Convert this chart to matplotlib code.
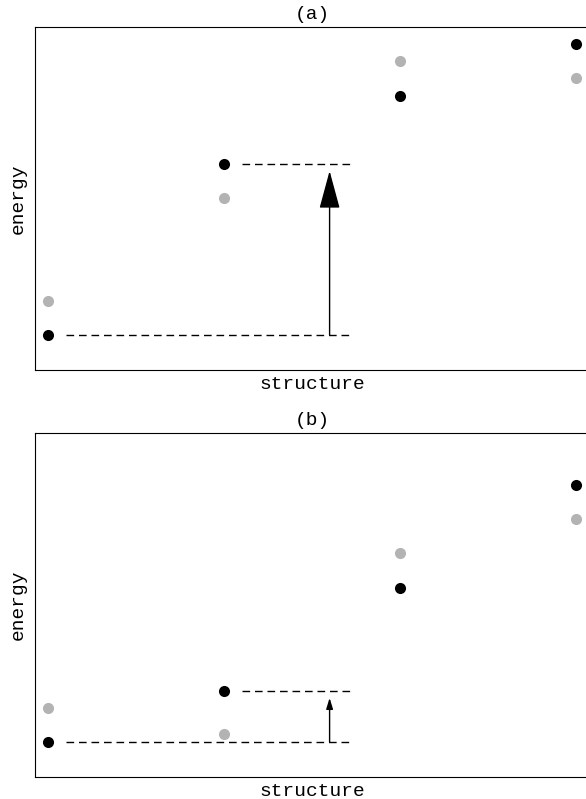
import matplotlib.pyplot as plt

# posiciones de las estructuras
structures = [0, 1, 2, 3]

# energias del panel (a)
black_a = [35, 206, 274, 326]
gray_a = [69, 172, 309, 292]

# energias del panel (b)
black_b = [35, 86, 189, 292]
gray_b = [69, 43, 224, 258]

titles = ['(a)', '(b)']

plt.rcParams['font.family'] = ['Liberation Mono', 'DejaVu Sans Mono']

fig = plt.figure(figsize=(5.86, 7.99), dpi=100)
W, H = 586, 799


def panel(top, bottom, black, gray, title, head_w, head_l):
  ax = fig.add_axes([35 / W, 1 - bottom / H, 554 / W, (bottom - top) / H])
  ax.plot(structures, gray, 'o', color='#b3b3b3', ms=8, mec='none')
  ax.plot(structures, black, 'o', color='black', ms=8, mec='none')
  # lineas punteadas
  ax.plot([0.1, 1.72], [black[0], black[0]], color='black', lw=1, ls=(0, (5.5, 3.5)))
  ax.plot([1.1, 1.72], [black[1], black[1]], color='black', lw=1, ls=(0, (5.5, 3.5)))
  # flecha
  ax.annotate('', xy=(1.6, black[1]), xytext=(1.6, black[0]),
              arrowprops=dict(arrowstyle=f'-|>,head_width={head_w},head_length={head_l}',
                              color='black', lw=1, shrinkA=0, shrinkB=5))
  ax.set_xlim(-0.074, 3.074)
  ax.set_ylim(0, bottom - top)
  ax.set_xticks([])
  ax.set_yticks([])
  ax.set_title(title, fontsize=14, pad=6)
  ax.set_xlabel('structure', fontsize=14, labelpad=4)
  ax.set_ylabel('energy', fontsize=14, labelpad=6)
  return ax


panel(27, 370, black_a, gray_a, titles[0], 0.65, 2.4)
panel(433, 777, black_b, gray_b, titles[1], 0.2, 0.65)

plt.savefig('out.png', dpi=100)
plt.close()
